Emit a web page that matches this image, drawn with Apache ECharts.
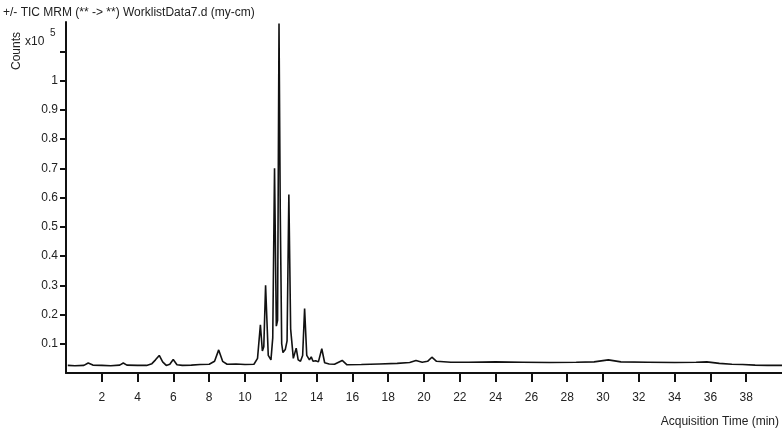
<html>
<head>
<script src="https://cdn.jsdelivr.net/npm/echarts@6/dist/echarts.min.js"></script>
<style>
  html, body { margin: 0; padding: 0; background: #fff; }
  #container { width: 782px; height: 428px; }
</style>
</head>
<body>
<div id="container"></div>
<script type="text/javascript">
// acquisition time (min)
var times = [0.1, 0.5, 1.0, 1.24, 1.5, 2.0, 2.5, 3.0, 3.2, 3.4, 4.0, 4.5, 4.8, 5.0, 5.21, 5.4, 5.6, 5.8, 5.99, 6.2,
    6.5, 7.0, 7.5, 8.0, 8.3, 8.53, 8.75, 9.0, 9.5, 10.0, 10.5, 10.7, 10.86, 10.97, 11.05, 11.15, 11.3, 11.45, 11.55, 11.65,
    11.75, 11.82, 11.9, 11.97, 12.05, 12.12, 12.25, 12.35, 12.45, 12.55, 12.7, 12.86, 12.97, 13.1, 13.22, 13.33, 13.45, 13.6, 13.7, 13.8,
    13.95, 14.1, 14.29, 14.45, 14.7, 15.0, 15.43, 15.7, 16.5, 17.5, 18.5, 19.2, 19.55, 19.9, 20.2, 20.44, 20.7, 21.5, 22.5, 24,
    25.5, 27, 28.5, 29.5, 30.3, 31, 32.5, 34, 35.2, 35.8, 36.5, 37.2, 37.8, 38.5, 39.2, 40];
// counts (x10^5)
var counts = [0.026, 0.025, 0.026, 0.034, 0.027, 0.026, 0.025, 0.027, 0.034, 0.027, 0.026, 0.026, 0.032, 0.045, 0.060, 0.038, 0.026, 0.030, 0.046, 0.028,
    0.026, 0.027, 0.029, 0.030, 0.040, 0.079, 0.040, 0.030, 0.031, 0.029, 0.030, 0.050, 0.165, 0.075, 0.090, 0.300, 0.060, 0.045, 0.120, 0.700,
    0.160, 0.180, 1.195, 0.550, 0.100, 0.070, 0.080, 0.110, 0.610, 0.150, 0.050, 0.085, 0.045, 0.040, 0.060, 0.220, 0.060, 0.045, 0.055, 0.040,
    0.042, 0.038, 0.083, 0.035, 0.031, 0.030, 0.043, 0.028, 0.029, 0.031, 0.033, 0.036, 0.043, 0.037, 0.040, 0.054, 0.040, 0.037, 0.037, 0.038,
    0.037, 0.036, 0.037, 0.038, 0.045, 0.038, 0.037, 0.036, 0.037, 0.038, 0.033, 0.030, 0.029, 0.027, 0.026, 0.026];
var xTicks = [2, 4, 6, 8, 10, 12, 14, 16, 18, 20, 22, 24, 26, 28, 30, 32, 34, 36, 38];
var yLabels = [0.1, 0.2, 0.3, 0.4, 0.5, 0.6, 0.7, 0.8, 0.9, 1];
var yTicks = [0.1, 0.2, 0.3, 0.4, 0.5, 0.6, 0.7, 0.8, 0.9, 1, 1.1];

var trace = times.map(function (t, i) { return [t, counts[i]]; });

var myChart = echarts.init(document.getElementById('container'), null, { renderer: 'canvas' });
var font = 'Liberation Sans';

var option = {
    animation: false,
    backgroundColor: '#fff',
    grid: { left: 66, right: -2, top: 22, bottom: 55 },
    xAxis: {
        type: 'value',
        min: 0,
        max: 40,
        interval: 2,
        splitLine: { show: false },
        axisLine: { lineStyle: { color: '#111', width: 2 } },
        axisTick: { customValues: xTicks, length: 9, lineStyle: { color: '#111', width: 2 } },
        axisLabel: { customValues: xTicks, color: '#222', fontFamily: font, fontSize: 12, margin: 14 }
    },
    yAxis: {
        type: 'value',
        min: 0,
        max: 1.2,
        interval: 0.1,
        splitLine: { show: false },
        axisLine: { show: true, lineStyle: { color: '#111', width: 2 } },
        axisTick: { customValues: yTicks, length: 6, lineStyle: { color: '#111', width: 2 } },
        axisLabel: { customValues: yLabels, color: '#222', fontFamily: font, fontSize: 12, margin: 8 }
    },
    graphic: [
        { type: 'text', left: 3, top: 2,
          style: { text: '+/- TIC MRM (** -> **) WorklistData7.d (my-cm)', fill: '#222', font: '12px ' + font } },
        { type: 'text', x: 6, y: 70, rotation: Math.PI / 2,
          style: { text: 'Counts', fill: '#222', font: '12px ' + font } },
        { type: 'text', left: 25, top: 31,
          style: { text: 'x10', fill: '#222', font: '12px ' + font } },
        { type: 'text', left: 50, top: 25,
          style: { text: '5', fill: '#222', font: '10px ' + font } },
        { type: 'text', right: 3, top: 411,
          style: { text: 'Acquisition Time (min)', fill: '#222', font: '12px ' + font } }
    ],
    series: [{
        type: 'line',
        data: trace,
        symbol: 'none',
        lineStyle: { color: '#111', width: 1.6 }
    }]
};
myChart.setOption(option);
</script>
</body>
</html>
